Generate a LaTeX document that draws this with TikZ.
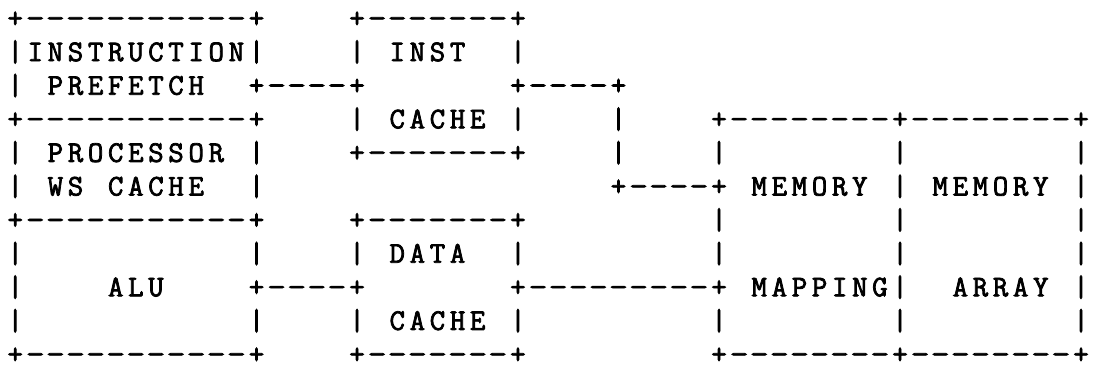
\documentclass[tikz,border=0pt]{standalone}
\usepackage{fontspec}
\usepackage{graphicx}
\usepackage{tikz}

\newfontfamily\asciifont[FakeBold=2.5]{Latin Modern Mono}

% every character sits in a cell of fixed width, ~ is a blank cell,
% dashes are stretched a little so the rules look longer
\newlength\cellwd
\setlength\cellwd{20.11pt}
\newcommand\cells[1]{\docells#1\relax}
\def\docells#1{\ifx#1\relax\else
  \makebox[\cellwd]{\ifx#1-\scalebox{1.2}[1]{-}\else#1\fi}%
  \expandafter\docells\fi}

\begin{document}
\begin{tikzpicture}[x=1pt,y=1pt,
  asciirow/.style={anchor=base west,inner sep=0,text depth=0pt,
    font=\asciifont\fontsize{30pt}{33.6pt}\selectfont}]
\useasboundingbox (0,0) rectangle (1093,-365);
  \foreach \txt [count=\i] in {
    +-----------+~~~~+-------+,
    |INSTRUCTION|~~~~|~INST~~|,
    |~PREFETCH~~+----+~~~~~~~+----+,
    +-----------+~~~~|~CACHE~|~~~~|~~~~+--------+--------+,
    |~PROCESSOR~|~~~~+-------+~~~~|~~~~|~~~~~~~~|~~~~~~~~|,
    |~WS~CACHE~~|~~~~~~~~~~~~~~~~~+----+~MEMORY~|~MEMORY~|,
    +-----------+~~~~+-------+~~~~~~~~~|~~~~~~~~|~~~~~~~~|,
    |~~~~~~~~~~~|~~~~|~DATA~~|~~~~~~~~~|~~~~~~~~|~~~~~~~~|,
    |~~~~ALU~~~~+----+~~~~~~~+---------+~MAPPING|~~ARRAY~|,
    |~~~~~~~~~~~|~~~~|~CACHE~|~~~~~~~~~|~~~~~~~~|~~~~~~~~|,
    +-----------+~~~~+-------+~~~~~~~~~+--------+--------+}
  {\node[asciirow] (row\i) at (4.945,{-27.5-33.6*(\i-1)}) {\expandafter\cells\expandafter{\txt}};}
\end{tikzpicture}
\end{document}
